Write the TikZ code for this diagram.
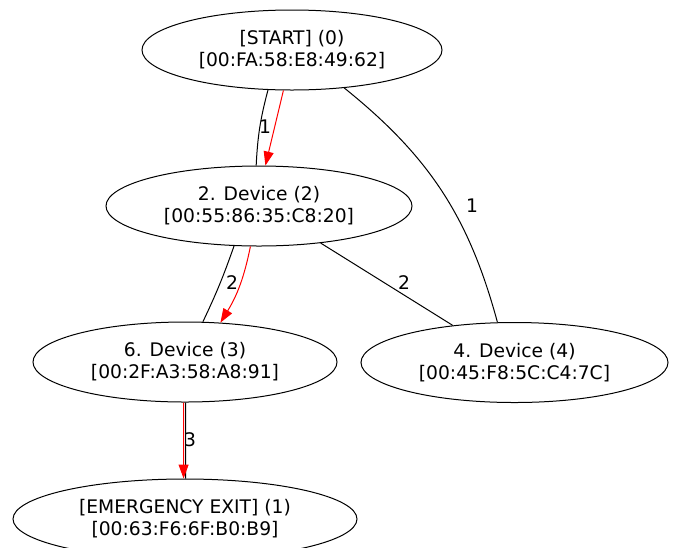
\documentclass[tikz,border=0pt]{standalone}
\usepackage{fontspec}
\setmainfont{DejaVu Sans}
\usetikzlibrary{shapes.geometric,arrows.meta}
\begin{document}
\begin{tikzpicture}[x=1pt,y=1pt,
  dev/.style={draw, ellipse, line width=1pt, inner sep=0pt, minimum width=#1, minimum height=80pt, align=center,
    font=\fontsize{18.7}{22}\selectfont},
  link/.style={draw=black, line width=1pt},
  path/.style={draw=red, line width=1pt, -{Triangle[length=14pt,width=10pt]}},
  lbl/.style={font=\fontsize{18.7}{22}\selectfont}]
\useasboundingbox (0,0) rectangle (676,-547);
\node[dev=300pt] (s) at (292,-50) {[START] (0)\\{}[00:FA:58:E8:49:62]};
\node[dev=306pt] (d2) at (259,-206) {2. Device (2)\\{}[00:55:86:35:C8:20]};
\node[dev=304pt] (d3) at (185,-362) {6. Device (3)\\{}[00:2F:A3:58:A8:91]};
\node[dev=307pt] (d4) at (514.5,-362.5) {4. Device (4)\\{}[00:45:F8:5C:C4:7C]};
\node[dev=344pt] (e) at (185,-519) {[EMERGENCY EXIT] (1)\\{}[00:63:F6:6F:B0:B9]};
% edges
\draw[link] (s.-121.3) to[bend right=6] (d2.94.3);
\draw[path] (s.-102.7) -- (d2.81.5);
\draw[link] (s.-36.4) to[bend left=18] (d4.113.8);
\draw[link] (d2.-122.3) to[bend left=3] (d3.66.8);
\draw[path] (d2.-102.7) to[bend left=10] (d3.48);
\draw[link] (d2.-31) -- (d4.149.7);
\draw[link] (d3.-89.6) -- (e.89.6);
\draw[path] (d3.-92.9) -- (e.92.9);
% labels
\node[lbl] (l1) at (265,-127) {1};
\node[lbl] (l2) at (472,-206) {1};
\node[lbl] (l3) at (232,-283) {2};
\node[lbl] (l4) at (404,-283) {2};
\node[lbl] (l5) at (190,-440) {3};
\end{tikzpicture}
\end{document}
